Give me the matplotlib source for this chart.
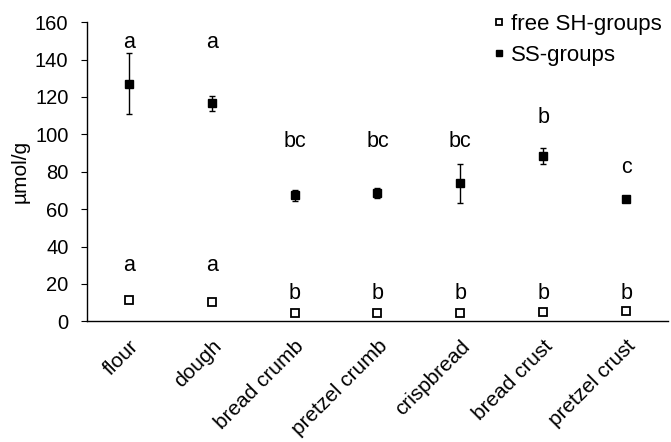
import matplotlib.pyplot as plt
import numpy as np

plt.rcParams['font.family'] = ['Liberation Sans', 'DejaVu Sans']

samples = ['flour', 'dough', 'bread crumb', 'pretzel crumb', 'crispbread',
           'bread crust', 'pretzel crust']
sh_mean = [11.5, 10.5, 4.5, 4.5, 4.6, 5.0, 5.4]
sh_err = [1.5, 1.5, 0.8, 0.8, 0.8, 0.8, 0.8]
ss_mean = [127.0, 116.5, 67.4, 68.6, 73.7, 88.3, 65.3]
ss_err = [16.3, 4.0, 3.0, 2.5, 10.3, 4.3, 1.5]
sh_letters = ['a', 'a', 'b', 'b', 'b', 'b', 'b']
sh_letter_y = [30, 30, 15, 15, 15, 15, 15]
ss_letters = ['a', 'a', 'bc', 'bc', 'bc', 'b', 'c']
ss_letter_y = [149, 149, 96, 96, 96, 109, 82.5]

x = np.arange(len(samples))

fig, ax = plt.subplots(figsize=(6.71, 4.42), dpi=100)
fig.subplots_adjust(left=0.13, right=0.995, top=0.95, bottom=0.273)

# open squares: free SH, filled squares: SS
ax.errorbar(x, sh_mean, yerr=sh_err, fmt='s', ms=5.5, mfc='white', mec='black',
            mew=1.3, ecolor='black', elinewidth=1, capsize=2.5,
            label='free SH-groups')
ax.errorbar(x, ss_mean, yerr=ss_err, fmt='s', ms=5.5, mfc='black', mec='black',
            ecolor='black', elinewidth=1, capsize=2.5, label='SS-groups')

# significance letters
for xi, t, y in zip(x, sh_letters, sh_letter_y):
    ax.text(xi, y, t, ha='center', va='center', fontsize=15.5)
for xi, t, y in zip(x, ss_letters, ss_letter_y):
    ax.text(xi, y, t, ha='center', va='center', fontsize=15.5)

ax.set_xlim(-0.5, 6.5)
ax.set_ylim(0, 160)
ax.set_yticks(range(0, 161, 20))
ax.set_xticks(x)
ax.set_xticklabels(samples, rotation=45, ha='right', rotation_mode='anchor')
ax.tick_params(axis='x', length=0, labelsize=15, pad=11)
ax.tick_params(axis='y', labelsize=14.5, length=4.5, direction='out', pad=9)
ax.set_ylabel('µmol/g', fontsize=15, labelpad=4)

for side in ['top', 'right']:
    ax.spines[side].set_visible(False)
ax.spines['left'].set_linewidth(1)
ax.spines['bottom'].set_linewidth(1)

handles, labels = ax.get_legend_handles_labels()
handles = [h[0] for h in handles]
fig.legend(handles, labels, loc='upper right', frameon=False, fontsize=16,
           handlelength=0.4, handletextpad=0.35, borderaxespad=0,
           bbox_to_anchor=(1.0, 0.988), labelspacing=0.45, markerscale=0.8)

fig.savefig('out.png')
